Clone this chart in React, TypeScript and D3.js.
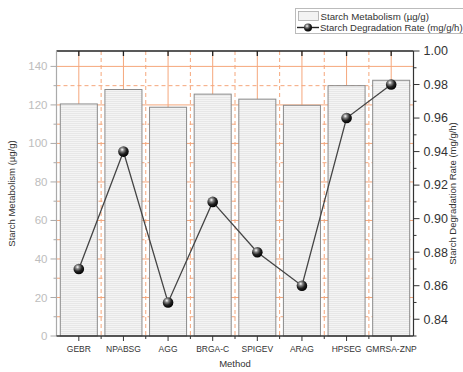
import React from "react";
import * as d3 from "d3";

// values
const methods = ["GEBR", "NPABSG", "AGG", "BRGA-C", "SPIGEV", "ARAG", "HPSEG", "GMRSA-ZNP"];
const metabolism = [120.5, 128, 118.8, 125.6, 123, 119.8, 130, 132.8];
const degradationRate = [0.87, 0.94, 0.85, 0.91, 0.88, 0.86, 0.96, 0.98];
const leftTicks = [0, 20, 40, 60, 80, 100, 120, 140];
const rightTicks = [0.84, 0.86, 0.88, 0.9, 0.92, 0.94, 0.96, 0.98, 1.0];

const W = 463;
const H = 372;
const left = 56.5;
const right = 413.5;
const top = 51;
const bottom = 336;
const font = "'Liberation Sans', Arial, sans-serif";
const orange = "#f5a77c";

const App = () => {
  const x = d3.scaleBand().domain(methods).range([left, right]);
  const yL = d3.scaleLinear().domain([0, 148]).range([bottom, top]);
  const yR = d3.scaleLinear().domain([0.83, 1.0]).range([bottom, top]);
  const bw = x.bandwidth();
  const barW = bw * 0.83;
  const cx = (m: string) => (x(m) as number) + bw / 2;

  const minorLeft = d3.range(10, 148, 20);
  const minorRight = d3.range(0.83, 1.0, 0.02).map((v) => +v.toFixed(2));
  const boundaries = methods.slice(1).map((m) => x(m) as number);

  const line = d3
    .line<number>()
    .x((_, i) => cx(methods[i]))
    .y((d) => yR(d));

  return (
    <svg
      width={W}
      height={H}
      style={{ position: "absolute", left: 0, top: 0, background: "#fff", fontFamily: font }}
    >
      <defs>
        <pattern id="stripes" width="4" height="2" patternUnits="userSpaceOnUse">
          <rect width="4" height="2" fill="#f4f4f4" />
          <line x1="0" x2="4" y1="1.5" y2="1.5" stroke="#dedede" strokeWidth="0.6" />
        </pattern>
        <radialGradient id="ball" cx="0.38" cy="0.32" r="0.7">
          <stop offset="0" stopColor="#ffffff" />
          <stop offset="0.25" stopColor="#888" />
          <stop offset="0.6" stopColor="#222" />
          <stop offset="1" stopColor="#000" />
        </radialGradient>
      </defs>

      {/* grid */}
      {leftTicks.slice(1).map((t) => (
        <line key={"hg" + t} x1={left} x2={right} y1={yL(t)} y2={yL(t)} stroke={orange} strokeWidth={1} />
      ))}
      {minorLeft.map((t) => (
        <line key={"hm" + t} x1={left} x2={right} y1={yL(t)} y2={yL(t)} stroke={orange} strokeWidth={1} strokeDasharray="4,3" />
      ))}
      {methods.map((m) => (
        <line key={"vg" + m} x1={cx(m)} x2={cx(m)} y1={top} y2={bottom} stroke={orange} strokeWidth={1} />
      ))}
      {boundaries.map((b, i) => (
        <line key={"vb" + i} x1={b} x2={b} y1={top} y2={bottom} stroke={orange} strokeWidth={1} strokeDasharray="4,3" />
      ))}

      {/* bars */}
      {methods.map((m, i) => (
        <rect
          key={"bar" + m}
          x={cx(m) - barW / 2}
          y={yL(metabolism[i])}
          width={barW}
          height={bottom - yL(metabolism[i])}
          fill="url(#stripes)"
          stroke="#8a8a8a"
          strokeWidth={1}
        />
      ))}

      {/* line + markers */}
      <path d={line(degradationRate) || ""} fill="none" stroke="#444" strokeWidth={1.3} />
      {degradationRate.map((v, i) => (
        <circle key={"pt" + i} cx={cx(methods[i])} cy={yR(v)} r={5.3} fill="url(#ball)" />
      ))}

      {/* top axis */}
      <line x1={left} x2={right} y1={top} y2={top} stroke="#222" strokeWidth={1.5} />
      {methods.map((m) => (
        <line key={"tt" + m} x1={cx(m)} x2={cx(m)} y1={top} y2={top + 5} stroke="#222" strokeWidth={1.3} />
      ))}

      {/* left axis */}
      <line x1={left} x2={left} y1={top} y2={bottom} stroke="#aaa" strokeWidth={1.2} />
      {leftTicks.map((t) => (
        <g key={"lt" + t}>
          <line x1={left - 6} x2={left} y1={yL(t)} y2={yL(t)} stroke="#aaa" strokeWidth={1} />
          <text x={left - 9} y={yL(t)} dy="0.35em" textAnchor="end" fontSize={11.5} fill="#bdbdbd">
            {t}
          </text>
        </g>
      ))}
      {minorLeft.map((t) => (
        <line key={"lm" + t} x1={left - 3} x2={left} y1={yL(t)} y2={yL(t)} stroke="#aaa" strokeWidth={1} />
      ))}
      <text
        transform={`translate(15,${(top + bottom) / 2}) rotate(-90)`}
        textAnchor="middle"
        fontSize={9.5}
        fill="#333"
      >
        Starch Metabolism (µg/g)
      </text>

      {/* right axis */}
      <line x1={right} x2={right} y1={top} y2={bottom} stroke="#333" strokeWidth={1.2} />
      {rightTicks.map((t) => (
        <g key={"rt" + t}>
          <line x1={right} x2={right + 6} y1={yR(t)} y2={yR(t)} stroke="#333" strokeWidth={1} />
          <text x={right + 10} y={yR(t)} dy="0.35em" fontSize={12.5} fill="#333">
            {t.toFixed(2)}
          </text>
        </g>
      ))}
      {minorRight.map((t) => (
        <line key={"rm" + t} x1={right} x2={right + 3} y1={yR(t)} y2={yR(t)} stroke="#333" strokeWidth={1} />
      ))}
      <text
        transform={`translate(456,${(top + bottom) / 2}) rotate(-90)`}
        textAnchor="middle"
        fontSize={9.5}
        fill="#333"
      >
        Starch Degradation Rate (mg/g/h)
      </text>

      {/* bottom axis */}
      <line x1={left} x2={right} y1={bottom} y2={bottom} stroke="#333" strokeWidth={1.3} />
      {methods.map((m) => (
        <g key={"bt" + m}>
          <line x1={cx(m)} x2={cx(m)} y1={bottom} y2={bottom + 5} stroke="#333" strokeWidth={1} />
          <text x={cx(m)} y={bottom + 16} textAnchor="middle" fontSize={8.5} fill="#333">
            {m}
          </text>
        </g>
      ))}
      {boundaries.map((b, i) => (
        <line key={"bb" + i} x1={b} x2={b} y1={bottom} y2={bottom + 3} stroke="#333" strokeWidth={1} />
      ))}
      <text x={(left + right) / 2} y={bottom + 31} textAnchor="middle" fontSize={9.5} fill="#333">
        Method
      </text>

      {/* legend */}
      <rect x={295.5} y={8.5} width={175} height={25} fill="#fff" stroke="#bbb" strokeWidth={1} />
      <rect x={298.5} y={11.5} width={20} height={9} fill="#f3f3f3" stroke="#aaa" strokeWidth={0.8} />
      <text x={320.5} y={19.5} fontSize={9.7} fill="#333">
        Starch Metabolism (µg/g)
      </text>
      <line x1={297} x2={319} y1={27.5} y2={27.5} stroke="#222" strokeWidth={1.4} />
      <circle cx={308} cy={27.5} r={4} fill="url(#ball)" />
      <text x={320} y={30.5} fontSize={9.5} fill="#333">
        Starch Degradation Rate (mg/g/h)
      </text>
    </svg>
  );
};

export default App;
